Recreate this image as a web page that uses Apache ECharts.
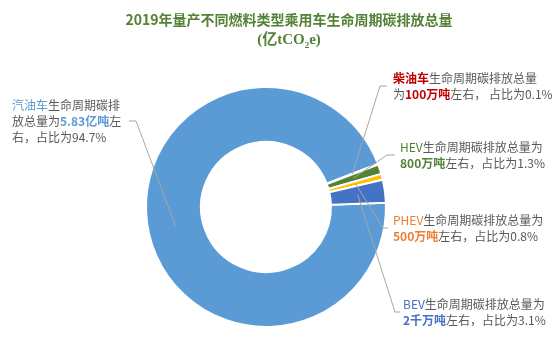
<!DOCTYPE html>
<html>
<head>
<meta charset="utf-8">
<script src="https://cdn.jsdelivr.net/npm/echarts@6/dist/echarts.min.js"></script>
<style>html,body{margin:0;padding:0;background:#fff;}#c{width:554px;height:354px;}</style>
</head>
<body>
<div id="c"></div>
<script>
// ---- data ----
const categories = ['汽油车', '柴油车', 'HEV', 'PHEV', 'BEV'];
const shares = [94.7, 0.1, 1.3, 0.8, 3.1];           // 占比 %
const amounts = ['5.83亿吨', '100万吨', '800万吨', '500万吨', '2千万吨'];
const titleLine1 = '2019年量产不同燃料类型乘用车生命周期碳排放总量';

// ---- styles ----
const sliceColors = ['#5B9BD5', '#C00000', '#548235', '#FFC000', '#4472C4'];
const labelColors = ['#5B9BD5', '#C00000', '#548235', '#ED7D31', '#4472C4'];
const nameBold = ['normal', 'bold', 'normal', 'normal', 'normal'];
const CX = 266, CY = 207, R_IN = 65, R_OUT = 120;
// label placement: x, y(middle), corner x, end x
const labelPos = [
  {x: 12,  y: 121, cx: 136, ex: 129},
  {x: 393, y: 86,  cx: 380, ex: 387},
  {x: 400, y: 155, cx: 387, ex: 395},
  {x: 393, y: 228, cx: 383, ex: 388},
  {x: 403, y: 312, cx: 395, ex: 400}
];

function labelText(i) {
  const n = categories[i], a = amounts[i], s = shares[i] + '%';
  if (i === 0) return '{c|' + n + '}{t|生命周期碳排}\n{t|放总量为}{a|' + a + '}{t|左}\n{t|右，占比为' + s + '}';
  if (i === 1) return '{c|' + n + '}{t|生命周期碳排放总量}\n{t|为}{a|' + a + '}{t|左右， 占比为' + s + '}';
  return '{c|' + n + '}{t|生命周期碳排放总量为}\n{a|' + a + '}{t|左右，占比为' + s + '}';
}

const font = '"Noto Sans CJK SC", "Noto Sans", sans-serif';
const chart = echarts.init(document.getElementById('c'), null, {renderer: 'canvas'});

// visible sectors
const sectorData = categories.map((n, i) => ({
  name: n, value: shares[i], itemStyle: {color: sliceColors[i]}
}));
// transparent overlay carrying labels + leader lines (drawn on top)
const labelData = categories.map((n, i) => ({
  name: n,
  value: shares[i],
  itemStyle: {color: 'rgba(0,0,0,0)'},
  label: {
    formatter: labelText(i),
    rich: {
      t: {color: '#595959', fontSize: 12, fontFamily: font, lineHeight: 16},
      c: {color: labelColors[i], fontSize: 12, fontFamily: font, lineHeight: 16, fontWeight: nameBold[i]},
      a: {color: labelColors[i], fontSize: 12, fontFamily: font, lineHeight: 16, fontWeight: 'bold'}
    }
  }
}));

chart.setOption({
  animation: false,
  title: {
    text: titleLine1 + '\n{u|(亿tCO}{s|2}{u|e)}',
    left: 284,
    textAlign: 'center',
    top: 5,
    textStyle: {
      color: '#538135',
      fontSize: 14,
      fontWeight: 'bold',
      fontFamily: font,
      lineHeight: 20,
      rich: {
        u: {color: '#538135', fontSize: 15, fontWeight: 'bold', fontFamily: '"Liberation Serif", "Noto Sans CJK SC", serif', lineHeight: 20},
        s: {color: '#538135', fontSize: 9, fontWeight: 'bold', fontFamily: '"Liberation Serif", serif', verticalAlign: 'bottom', lineHeight: 20, padding: [6, 0, 0, 0]}
      }
    }
  },
  series: [{
    type: 'pie',
    z: 2,
    center: [CX, CY],
    radius: [R_IN, R_OUT],
    startAngle: 2,
    clockwise: true,
    silent: true,
    data: sectorData,
    itemStyle: {borderColor: '#fff', borderWidth: 2},
    label: {show: false},
    labelLine: {show: false},
    emphasis: {disabled: true}
  }, {
    type: 'pie',
    z: 6,
    center: [CX, CY],
    radius: [R_IN, R_OUT],
    startAngle: 2,
    clockwise: true,
    silent: true,
    avoidLabelOverlap: false,
    data: labelData,
    itemStyle: {borderWidth: 0},
    label: {show: true, position: 'outside'},
    labelLine: {show: true, length: 10, length2: 10, lineStyle: {color: '#A6A6A6', width: 1}},
    emphasis: {disabled: true},
    labelLayout: function (p) {
      const L = labelPos[p.dataIndex];
      let mid;
      if (p.labelLinePoints && p.labelLinePoints.length) {
        const p0 = p.labelLinePoints[0];
        const dx = p0[0] - CX, dy = p0[1] - CY;
        const d = Math.sqrt(dx * dx + dy * dy) || 1;
        const rm = (R_IN + R_OUT) / 2;
        mid = [CX + dx / d * rm, CY + dy / d * rm];
      } else {
        mid = [L.cx, L.y];
      }
      return {
        x: L.x,
        y: L.y,
        align: 'left',
        verticalAlign: 'middle',
        labelLinePoints: [mid, [L.cx, L.y], [L.ex, L.y]]
      };
    }
  }]
});
</script>
</body>
</html>
